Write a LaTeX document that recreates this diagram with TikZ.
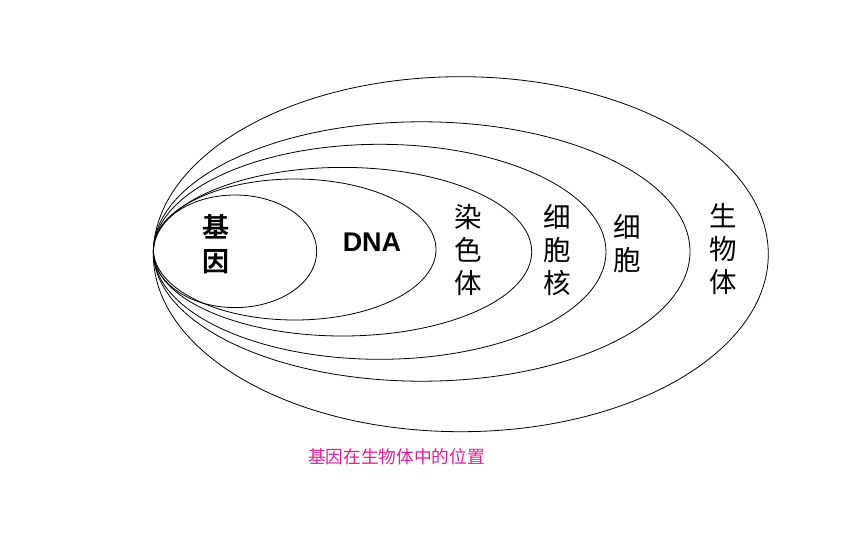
\documentclass[tikz,border=0pt]{standalone}
\usepackage{fontspec}
\newfontfamily\cjk{Noto Sans CJK SC}
\newfontfamily\cjkb{Noto Sans CJK SC Bold}
\newfontfamily\arialb{Liberation Sans Bold}
\definecolor{capmag}{RGB}{225,30,150}
\begin{document}
\begin{tikzpicture}[x=1pt,y=-1pt,
  ring/.style={draw=black,line width=0.8pt},
  lbl/.style={inner sep=0pt,align=center,font=\cjk\fontsize{27.5}{33}\selectfont},
  lblb/.style={inner sep=0pt,align=center,font=\cjkb\fontsize{27}{34}\selectfont},
  captext/.style={inner sep=0pt,text=capmag,font=\cjk\fontsize{17.7}{20}\selectfont}]
\useasboundingbox (0,0) rectangle (860,538);
\draw[ring] (235,251.3) ellipse [x radius=81.7pt, y radius=56.3pt];
\draw[ring] (294.7,249.5) ellipse [x radius=141.3pt, y radius=70.5pt];
\draw[ring] (342.5,251.7) ellipse [x radius=189.2pt, y radius=84.3pt];
\draw[ring] (379.7,251.8) ellipse [x radius=226.3pt, y radius=107.5pt];
\draw[ring] (421.7,251.5) ellipse [x radius=268.3pt, y radius=129.7pt];
\draw[ring] (460.8,254.2) ellipse [x radius=307.5pt, y radius=177.5pt];
\node[lblb] (gene) at (216,244) {基\\因};
\node[inner sep=0pt,font=\arialb\fontsize{27}{30}\selectfont] (dna) at (372,242.5) {DNA};
\node[lbl] (chrom) at (468,250) {染\\色\\体};
\node[lbl] (nucleus) at (557.5,250) {细\\胞\\核};
\node[lbl] (cell) at (627.5,244) {细\\胞};
\node[lbl] (org) at (723.5,249) {生\\物\\体};
\node[captext] (caption) at (396.5,457) {基因在生物体中的位置};
\end{tikzpicture}
\end{document}
